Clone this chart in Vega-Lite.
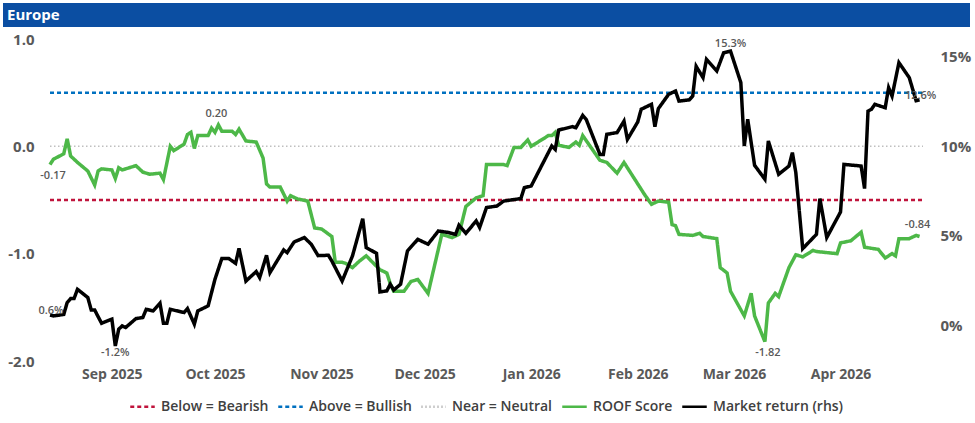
{
  "$schema": "https://vega.github.io/schema/vega-lite/v6.json",
  "background": "white",
  "padding": {"left": 3, "top": 3, "right": 3, "bottom": 3},
  "spacing": 5,
  "config": {
    "font": "Open Sans",
    "view": {"stroke": null},
    "axisX": {"format": "%b %Y", "tickCount": {"interval": "month", "step": 1}, "labelFontSize": 14, "labelFontWeight": "bold", "labelColor": "#595959", "ticks": false, "domain": false, "grid": false, "labelPadding": 6, "labelFlush": false, "labelOverlap": false, "title": null},
    "axisY": {"labelFontSize": 15, "labelFontWeight": "bold", "labelColor": "#595959", "ticks": false, "domain": false, "grid": false, "title": null},
    "legend": {"orient": "bottom", "direction": "horizontal", "symbolType": "stroke", "symbolSize": 600, "symbolStrokeWidth": 2.5, "labelFontSize": 14, "labelFontWeight": 600, "labelColor": "#404040", "columnPadding": 4, "labelOffset": 5, "offset": 12, "title": null, "layout": {"bottom": {"anchor": "middle"}}}
  },
  "datasets": {
    "roof": [
      {"d":"2025-08-14","v":-0.17},{"d":"2025-08-15","v":-0.12},{"d":"2025-08-18","v":-0.07},{"d":"2025-08-19","v":0.07},{"d":"2025-08-20","v":-0.09},{"d":"2025-08-22","v":-0.15},{"d":"2025-08-25","v":-0.23},{"d":"2025-08-27","v":-0.36},{"d":"2025-08-28","v":-0.23},{"d":"2025-08-29","v":-0.21},
      {"d":"2025-09-01","v":-0.22},{"d":"2025-09-02","v":-0.30},{"d":"2025-09-03","v":-0.20},{"d":"2025-09-04","v":-0.22},{"d":"2025-09-08","v":-0.18},{"d":"2025-09-10","v":-0.24},{"d":"2025-09-11","v":-0.25},{"d":"2025-09-12","v":-0.26},{"d":"2025-09-15","v":-0.25},{"d":"2025-09-16","v":-0.31},{"d":"2025-09-18","v":0.00},{"d":"2025-09-19","v":-0.04},{"d":"2025-09-22","v":0.02},{"d":"2025-09-23","v":0.11},{"d":"2025-09-24","v":0.13},{"d":"2025-09-25","v":-0.02},{"d":"2025-09-26","v":0.10},{"d":"2025-09-29","v":0.10},{"d":"2025-09-30","v":0.17},
      {"d":"2025-10-01","v":0.13},{"d":"2025-10-02","v":0.20},{"d":"2025-10-03","v":0.14},{"d":"2025-10-06","v":0.14},{"d":"2025-10-07","v":0.11},{"d":"2025-10-08","v":0.16},{"d":"2025-10-10","v":0.05},{"d":"2025-10-13","v":0.04},{"d":"2025-10-15","v":-0.11},{"d":"2025-10-16","v":-0.35},{"d":"2025-10-17","v":-0.38},{"d":"2025-10-20","v":-0.38},{"d":"2025-10-22","v":-0.51},{"d":"2025-10-23","v":-0.46},{"d":"2025-10-25","v":-0.49},{"d":"2025-10-28","v":-0.51},{"d":"2025-10-30","v":-0.76},
      {"d":"2025-11-01","v":-0.77},{"d":"2025-11-04","v":-0.84},{"d":"2025-11-05","v":-1.08},{"d":"2025-11-07","v":-1.08},{"d":"2025-11-08","v":-1.09},{"d":"2025-11-10","v":-1.13},{"d":"2025-11-12","v":-1.07},{"d":"2025-11-14","v":-1.02},{"d":"2025-11-18","v":-1.15},{"d":"2025-11-20","v":-1.18},{"d":"2025-11-21","v":-1.28},{"d":"2025-11-22","v":-1.35},{"d":"2025-11-25","v":-1.35},{"d":"2025-11-27","v":-1.26},{"d":"2025-11-29","v":-1.24},
      {"d":"2025-12-02","v":-1.37},{"d":"2025-12-06","v":-0.82},{"d":"2025-12-09","v":-0.85},{"d":"2025-12-11","v":-0.82},{"d":"2025-12-13","v":-0.56},{"d":"2025-12-16","v":-0.48},{"d":"2025-12-18","v":-0.46},{"d":"2025-12-19","v":-0.17},{"d":"2025-12-24","v":-0.17},{"d":"2025-12-25","v":-0.18},{"d":"2025-12-27","v":-0.01},{"d":"2025-12-29","v":-0.01},{"d":"2025-12-31","v":0.06},
      {"d":"2026-01-01","v":0.00},{"d":"2026-01-06","v":0.10},{"d":"2026-01-07","v":0.10},{"d":"2026-01-08","v":0.13},{"d":"2026-01-09","v":0.01},{"d":"2026-01-12","v":-0.01},{"d":"2026-01-14","v":0.04},{"d":"2026-01-15","v":0.01},{"d":"2026-01-16","v":0.10},{"d":"2026-01-21","v":-0.13},{"d":"2026-01-23","v":-0.15},{"d":"2026-01-26","v":-0.25},{"d":"2026-01-28","v":-0.15},{"d":"2026-01-30","v":-0.25},
      {"d":"2026-02-03","v":-0.45},{"d":"2026-02-05","v":-0.54},{"d":"2026-02-07","v":-0.51},{"d":"2026-02-10","v":-0.52},{"d":"2026-02-11","v":-0.73},{"d":"2026-02-12","v":-0.74},{"d":"2026-02-13","v":-0.82},{"d":"2026-02-17","v":-0.83},{"d":"2026-02-19","v":-0.81},{"d":"2026-02-20","v":-0.84},{"d":"2026-02-24","v":-0.86},{"d":"2026-02-25","v":-1.13},{"d":"2026-02-27","v":-1.18},{"d":"2026-02-28","v":-1.35},
      {"d":"2026-03-04","v":-1.58},{"d":"2026-03-06","v":-1.37},{"d":"2026-03-07","v":-1.58},{"d":"2026-03-10","v":-1.82},{"d":"2026-03-11","v":-1.46},{"d":"2026-03-13","v":-1.37},{"d":"2026-03-14","v":-1.40},{"d":"2026-03-17","v":-1.13},{"d":"2026-03-19","v":-1.01},{"d":"2026-03-21","v":-1.03},{"d":"2026-03-24","v":-0.97},{"d":"2026-03-25","v":-0.98},{"d":"2026-03-31","v":-1.00},
      {"d":"2026-04-01","v":-0.90},{"d":"2026-04-04","v":-0.88},{"d":"2026-04-07","v":-0.80},{"d":"2026-04-08","v":-0.94},{"d":"2026-04-12","v":-0.96},{"d":"2026-04-14","v":-1.04},{"d":"2026-04-16","v":-1.00},{"d":"2026-04-17","v":-1.02},{"d":"2026-04-18","v":-0.86},{"d":"2026-04-21","v":-0.86},{"d":"2026-04-23","v":-0.83},{"d":"2026-04-24","v":-0.84}
    ],
    "mkt": [
      {"d":"2025-08-14","v":0.56},{"d":"2025-08-15","v":0.52},{"d":"2025-08-18","v":0.60},{"d":"2025-08-19","v":1.27},{"d":"2025-08-20","v":1.49},{"d":"2025-08-21","v":1.49},{"d":"2025-08-22","v":2.01},{"d":"2025-08-25","v":1.55},{"d":"2025-08-26","v":0.85},{"d":"2025-08-27","v":0.85},{"d":"2025-08-29","v":0.11},
      {"d":"2025-09-01","v":0.34},{"d":"2025-09-02","v":-1.16},{"d":"2025-09-03","v":-0.22},{"d":"2025-09-04","v":-0.04},{"d":"2025-09-05","v":-0.13},{"d":"2025-09-08","v":0.37},{"d":"2025-09-10","v":0.43},{"d":"2025-09-11","v":0.89},{"d":"2025-09-13","v":0.80},{"d":"2025-09-15","v":1.23},{"d":"2025-09-16","v":0.11},{"d":"2025-09-17","v":0.11},{"d":"2025-09-18","v":0.89},{"d":"2025-09-22","v":0.71},{"d":"2025-09-23","v":0.93},{"d":"2025-09-25","v":0.06},{"d":"2025-09-26","v":0.80},{"d":"2025-09-29","v":1.08},
      {"d":"2025-10-01","v":2.57},{"d":"2025-10-03","v":3.73},{"d":"2025-10-05","v":3.73},{"d":"2025-10-07","v":3.46},{"d":"2025-10-08","v":4.30},{"d":"2025-10-10","v":2.47},{"d":"2025-10-13","v":3.00},{"d":"2025-10-14","v":2.66},{"d":"2025-10-16","v":3.91},{"d":"2025-10-17","v":2.94},{"d":"2025-10-21","v":4.21},{"d":"2025-10-22","v":4.06},{"d":"2025-10-24","v":4.65},{"d":"2025-10-27","v":4.90},{"d":"2025-10-29","v":4.53},{"d":"2025-10-31","v":3.89},
      {"d":"2025-11-03","v":3.91},{"d":"2025-11-04","v":3.59},{"d":"2025-11-07","v":2.47},{"d":"2025-11-10","v":3.87},{"d":"2025-11-13","v":5.96},{"d":"2025-11-14","v":4.34},{"d":"2025-11-17","v":4.02},{"d":"2025-11-18","v":1.86},{"d":"2025-11-20","v":1.92},{"d":"2025-11-21","v":2.29},{"d":"2025-11-22","v":1.97},{"d":"2025-11-24","v":2.29},{"d":"2025-11-26","v":4.15},{"d":"2025-11-29","v":4.80},
      {"d":"2025-12-02","v":4.53},{"d":"2025-12-05","v":5.27},{"d":"2025-12-08","v":5.18},{"d":"2025-12-10","v":5.08},{"d":"2025-12-11","v":5.59},{"d":"2025-12-13","v":5.14},{"d":"2025-12-16","v":5.83},{"d":"2025-12-17","v":5.46},{"d":"2025-12-19","v":6.58},{"d":"2025-12-22","v":6.66},{"d":"2025-12-24","v":6.94},{"d":"2025-12-29","v":7.08},{"d":"2025-12-30","v":7.69},
      {"d":"2026-01-01","v":7.78},{"d":"2026-01-06","v":9.65},{"d":"2026-01-07","v":10.02},{"d":"2026-01-08","v":9.83},{"d":"2026-01-09","v":10.91},{"d":"2026-01-13","v":11.10},{"d":"2026-01-14","v":11.04},{"d":"2026-01-16","v":11.73},{"d":"2026-01-17","v":11.51},{"d":"2026-01-21","v":9.55},{"d":"2026-01-22","v":9.55},{"d":"2026-01-23","v":10.67},{"d":"2026-01-26","v":10.77},{"d":"2026-01-28","v":11.41},{"d":"2026-01-29","v":10.39},
      {"d":"2026-02-01","v":11.36},{"d":"2026-02-02","v":12.07},{"d":"2026-02-05","v":12.35},{"d":"2026-02-06","v":11.10},{"d":"2026-02-07","v":12.11},{"d":"2026-02-10","v":12.91},{"d":"2026-02-12","v":13.09},{"d":"2026-02-13","v":12.53},{"d":"2026-02-16","v":12.60},{"d":"2026-02-17","v":12.81},{"d":"2026-02-18","v":14.47},{"d":"2026-02-20","v":13.84},{"d":"2026-02-21","v":14.86},{"d":"2026-02-24","v":14.21},{"d":"2026-02-26","v":15.23},{"d":"2026-02-28","v":15.32},
      {"d":"2026-03-03","v":13.56},{"d":"2026-03-04","v":10.02},{"d":"2026-03-05","v":11.51},{"d":"2026-03-07","v":8.94},{"d":"2026-03-10","v":8.16},{"d":"2026-03-11","v":10.30},{"d":"2026-03-14","v":8.44},{"d":"2026-03-17","v":8.90},{"d":"2026-03-18","v":9.65},{"d":"2026-03-19","v":8.53},{"d":"2026-03-21","v":4.28},{"d":"2026-03-25","v":5.08},{"d":"2026-03-26","v":7.08},{"d":"2026-03-28","v":4.90},
      {"d":"2026-04-01","v":6.33},{"d":"2026-04-02","v":8.99},{"d":"2026-04-07","v":8.90},{"d":"2026-04-08","v":7.64},{"d":"2026-04-09","v":11.97},{"d":"2026-04-10","v":12.07},{"d":"2026-04-11","v":12.35},{"d":"2026-04-14","v":12.16},{"d":"2026-04-15","v":13.28},{"d":"2026-04-16","v":12.81},{"d":"2026-04-18","v":14.68},{"d":"2026-04-21","v":13.84},{"d":"2026-04-23","v":12.55},{"d":"2026-04-24","v":12.6}
    ]
  },
  "vconcat": [
    {
      "width": 967,
      "height": 24,
      "view": {"fill": "#0B4EA2", "stroke": null},
      "data": {"values": [{"t": "Europe"}]},
      "mark": {"type": "text", "align": "left", "baseline": "middle", "dx": 4, "color": "white", "fontSize": 15, "fontWeight": "bold"},
      "encoding": {
        "text": {"field": "t"},
        "x": {"datum": 0, "type": "quantitative", "scale": {"domain": [0, 1]}, "axis": null}
      }
    },
    {
      "width": 967,
      "height": 322,
      "layer": [
        {
          "layer": [
            {
              "data": {"values": [{"series": "Below = Bearish", "level": -0.5}, {"series": "Above = Bullish", "level": 0.5}]},
              "mark": {"type": "rule", "strokeWidth": 2.5},
              "encoding": {
                "x": {"datum": {"year": 2025, "month": 8, "date": 14}, "type": "temporal"},
                "x2": {"datum": {"year": 2026, "month": 4, "date": 25}},
                "y": {"field": "level", "type": "quantitative"},
                "color": {"field": "series", "type": "nominal", "scale": {"domain": ["Below = Bearish", "Above = Bullish", "Near = Neutral", "ROOF Score", "Market return (rhs)"], "range": ["#C0143C", "#0070C0", "#BFBFBF", "#4DB848", "#000000"]}},
                "strokeDash": {"field": "series", "type": "nominal", "scale": {"domain": ["Below = Bearish", "Above = Bullish", "Near = Neutral", "ROOF Score", "Market return (rhs)"], "range": [[4, 3], [4, 3], [1.5, 2.5], [1, 0], [1, 0]]}}
              }
            },
            {
              "data": {"values": [{"series": "Near = Neutral", "level": 0}]},
              "mark": {"type": "rule", "strokeWidth": 1.5},
              "encoding": {
                "x": {"datum": {"year": 2025, "month": 8, "date": 14}, "type": "temporal"},
                "x2": {"datum": {"year": 2026, "month": 4, "date": 25}},
                "y": {"field": "level", "type": "quantitative"},
                "color": {"field": "series", "type": "nominal"},
                "strokeDash": {"field": "series", "type": "nominal"}
              }
            },
            {
              "data": {"name": "roof"},
              "mark": {"type": "line", "strokeWidth": 3.5, "strokeJoin": "miter"},
              "encoding": {
                "x": {"field": "d", "type": "temporal", "scale": {"domain": ["2025-08-14", "2026-04-25"], "range": [47, 920]}},
                "y": {"field": "v", "type": "quantitative"},
                "color": {"datum": "ROOF Score", "type": "nominal"},
                "strokeDash": {"datum": "ROOF Score", "type": "nominal"}
              }
            },
            {
              "data": {"values": [{"d": "2025-08-14", "v": -0.17, "t": "-0.17"}, {"d": "2026-03-10", "v": -1.82, "t": "-1.82"}]},
              "mark": {"type": "text", "baseline": "middle", "dy": 11, "dx": 3, "fontSize": 11, "fontWeight": 600, "color": "#595959"},
              "encoding": {
                "x": {"field": "d", "type": "temporal"},
                "y": {"field": "v", "type": "quantitative"},
                "text": {"field": "t"}
              }
            },
            {
              "data": {"values": [{"d": "2025-10-02", "v": 0.20, "t": "0.20"}, {"d": "2026-04-24", "v": -0.84, "t": "-0.84"}]},
              "mark": {"type": "text", "baseline": "middle", "dy": -11, "dx": -2, "fontSize": 11, "fontWeight": 600, "color": "#595959"},
              "encoding": {
                "x": {"field": "d", "type": "temporal"},
                "y": {"field": "v", "type": "quantitative"},
                "text": {"field": "t"}
              }
            }
          ],
          "encoding": {
            "y": {"scale": {"domain": [-2, 1], "nice": false, "zero": false}, "axis": {"orient": "left", "offset": -47, "values": [-2, -1, 0, 1], "labelExpr": "(datum.value < 0 ? '-' : '') + format(abs(datum.value), '.1f')", "labelPadding": 16}}
          }
        },
        {
          "layer": [
            {
              "data": {"name": "mkt"},
              "mark": {"type": "line", "strokeWidth": 3.5, "strokeJoin": "miter"},
              "encoding": {
                "x": {"field": "d", "type": "temporal"},
                "y": {"field": "v", "type": "quantitative"},
                "color": {"datum": "Market return (rhs)", "type": "nominal"},
                "strokeDash": {"datum": "Market return (rhs)", "type": "nominal"}
              }
            },
            {
              "data": {"values": [{"d": "2025-08-14", "v": 0.56, "t": "0.6%"}, {"d": "2026-04-24", "v": 12.6, "t": "12.6%"}]},
              "mark": {"type": "text", "baseline": "middle", "dy": -4, "dx": 1, "fontSize": 11, "fontWeight": 600, "color": "#595959"},
              "encoding": {
                "x": {"field": "d", "type": "temporal"},
                "y": {"field": "v", "type": "quantitative"},
                "text": {"field": "t"}
              }
            },
            {
              "data": {"values": [{"d": "2025-09-02", "v": -1.16, "t": "-1.2%"}]},
              "mark": {"type": "text", "baseline": "middle", "dy": 7, "fontSize": 11, "fontWeight": 600, "color": "#595959"},
              "encoding": {
                "x": {"field": "d", "type": "temporal"},
                "y": {"field": "v", "type": "quantitative"},
                "text": {"field": "t"}
              }
            },
            {
              "data": {"values": [{"d": "2026-02-28", "v": 15.32, "t": "15.3%"}]},
              "mark": {"type": "text", "baseline": "middle", "dy": -7, "fontSize": 11, "fontWeight": 600, "color": "#595959"},
              "encoding": {
                "x": {"field": "d", "type": "temporal"},
                "y": {"field": "v", "type": "quantitative"},
                "text": {"field": "t"}
              }
            }
          ],
          "encoding": {
            "y": {"scale": {"domain": [-2, 16], "nice": false, "zero": false}, "axis": {"orient": "right", "offset": -47, "values": [0, 5, 10, 15], "labelExpr": "datum.value + '%'", "labelPadding": 17}}
          }
        }
      ],
      "resolve": {"scale": {"y": "independent"}, "axis": {"y": "independent"}},
      "encoding": {}
    }
  ]
}
